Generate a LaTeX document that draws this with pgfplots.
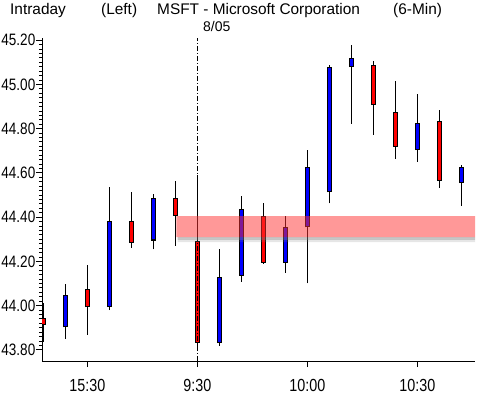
\documentclass[border=0pt]{standalone}
\usepackage{fontspec}
\setmainfont{Liberation Sans}
\newfontfamily\narrowfont{Liberation Sans}[FakeStretch=0.82]
\usepackage{pgfplots}
\pgfplotsset{compat=1.18}
\definecolor{cred}{RGB}{255,0,0}
\definecolor{cblue}{RGB}{0,0,255}
\definecolor{bandc}{RGB}{255,50,50}
% #1 position, #2 low, #3 body bottom, #4 body top, #5 high, #6 colour
\newcommand\candle[6]{%
  \addplot[black, line width=1.2bp] coordinates {(#1,#2) (#1,#5)};
  \addplot[black, line width=5.2bp, shorten <=-0.55bp, shorten >=-0.55bp] coordinates {(#1,#3) (#1,#4)};
  \addplot[#6, line width=3.0bp, shorten <=0.5bp, shorten >=0.5bp] coordinates {(#1,#3) (#1,#4)};}
\begin{document}
\begin{tikzpicture}
\path[use as bounding box] (0,0) rectangle (479bp,397bp);
\begin{axis}[
  at={(42bp,36bp)}, anchor=south west, scale only axis,
  width=433bp, height=323bp,
  xmin=-0.06, xmax=19.62, ymin=43.75, ymax=45.21,
  axis lines=left, axis line style={-, line width=1bp, black},
  xtick={2,7,12,17}, xticklabels={15:30,9:30,10:00,10:30},
  ytick={43.8,44.0,44.2,44.4,44.6,44.8,45.0,45.2},
  minor y tick num=9,
  tick align=outside,
  major tick length=6bp, minor tick length=3bp,
  every tick/.style={black, line width=1bp},
  yticklabel style={/pgf/number format/fixed, /pgf/number format/fixed zerofill, /pgf/number format/precision=2, /pgf/number format/assume math mode=true, font=\narrowfont\fontsize{16.5bp}{16.5bp}\selectfont, inner sep=0.5bp, anchor=east},
  xticklabel style={font=\narrowfont\fontsize{17.5bp}{17.5bp}\selectfont, inner sep=0pt, anchor=north, yshift=-12bp},
]
\candle{0}{43.837}{43.917}{43.943}{44.01}{cred}
\candle{1}{43.85}{43.905}{44.044}{44.10}{cblue}
\candle{2}{43.868}{43.996}{44.075}{44.184}{cred}
\candle{3}{43.98}{43.996}{44.382}{44.537}{cblue}
\candle{4}{44.262}{44.286}{44.382}{44.515}{cred}
\candle{5}{44.255}{44.297}{44.485}{44.504}{cblue}
\candle{6}{44.271}{44.408}{44.485}{44.563}{cred}
\candle{7}{43.82}{43.835}{44.292}{44.59}{cred}
\candle{8}{43.82}{43.833}{44.126}{44.256}{cblue}
\candle{9}{44.108}{44.137}{44.435}{44.495}{cblue}
\candle{10}{44.19}{44.196}{44.404}{44.462}{cred}
\candle{11}{44.149}{44.196}{44.354}{44.405}{cblue}
\candle{12}{44.101}{44.357}{44.625}{44.703}{cblue}
\candle{13}{44.462}{44.515}{45.076}{45.087}{cblue}
\candle{14}{44.822}{45.081}{45.117}{45.177}{cblue}
\candle{15}{44.772}{44.909}{45.085}{45.105}{cred}
\candle{16}{44.664}{44.72}{44.873}{45.014}{cred}
\candle{17}{44.65}{44.706}{44.823}{44.956}{cblue}
\candle{18}{44.533}{44.566}{44.833}{44.884}{cred}
\candle{19}{44.451}{44.557}{44.626}{44.635}{cblue}
% vertical day separator
\addplot[black, line width=1bp, dash pattern=on 5bp off 2bp on 1bp off 2bp] coordinates {(7,43.75) (7,45.21)};
% resistance band with shadow
\addplot[draw=none, fill=gray, fill opacity=0.45] coordinates {(6.1,44.298) (19.62,44.298) (19.62,44.31) (6.1,44.31) (6.1,44.298)};
\addplot[draw=none, fill=gray, fill opacity=0.2] coordinates {(6.1,44.287) (19.62,44.287) (19.62,44.298) (6.1,44.298) (6.1,44.287)};
\addplot[draw=none, fill=bandc, fill opacity=0.5] coordinates {(6.05,44.31) (19.62,44.31) (19.62,44.405) (6.05,44.405) (6.05,44.31)};
\end{axis}
\node[anchor=base west, inner sep=0pt] at (10bp,382bp) {\fontsize{15.4bp}{15.4bp}\selectfont Intraday};
\node[anchor=base west, inner sep=0pt] at (101bp,382bp) {\fontsize{15.4bp}{15.4bp}\selectfont (Left)};
\node[anchor=base west, inner sep=0pt] at (157bp,382bp) {\fontsize{15.4bp}{15.4bp}\selectfont MSFT - Microsoft Corporation};
\node[anchor=base west, inner sep=0pt] at (393bp,382bp) {\fontsize{15.4bp}{15.4bp}\selectfont (6-Min)};
\node[anchor=base west, inner sep=0pt] at (203bp,365.5bp) {\fontsize{14bp}{14bp}\selectfont 8/05};
\end{tikzpicture}
\end{document}
